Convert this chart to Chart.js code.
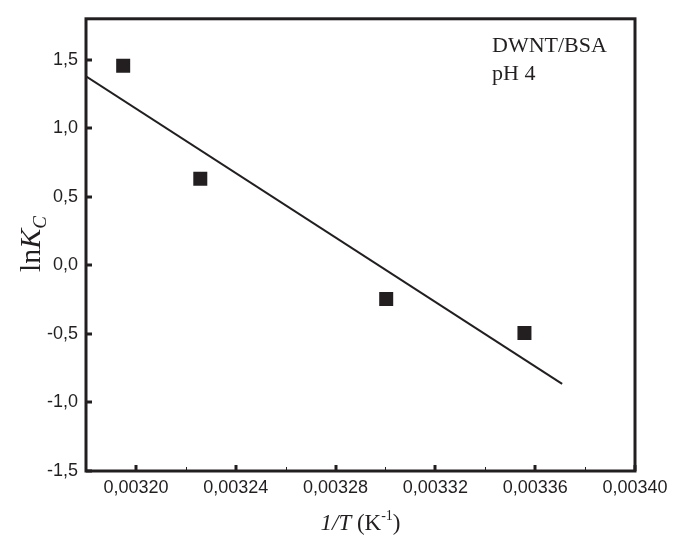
<!DOCTYPE html>
<html>
<head>
<meta charset="utf-8">
<script src="https://cdn.jsdelivr.net/npm/chart.js@4/dist/chart.umd.min.js"></script>
<style>
  html, body { margin: 0; padding: 0; background: #fff; }
  #wrap { width: 682px; height: 538px; }
</style>
</head>
<body>
<div id="wrap"><canvas id="myChart" width="682" height="538"></canvas></div>
<script>
// measured points (1/T vs lnKc)
const invT = [0.0031949, 0.0032258, 0.0033003, 0.0033557];
const lnKc = [1.457, 0.632, -0.245, -0.493];

// linear fit line, end points
const fitX = [0.00318, 0.0033708];
const fitY = [1.381, -0.864];

const xTicks = [0.0032, 0.00324, 0.00328, 0.00332, 0.00336, 0.0034];
const xMinorTicks = [0.00322, 0.00326, 0.0033, 0.00334, 0.00338];
const yTicks = [-1.5, -1.0, -0.5, 0.0, 0.5, 1.0, 1.5];

const ink = '#231f20';
const serif = '"Liberation Serif", "Times New Roman", serif';

const frame = {
  id: 'frame',
  afterDraw(chart) {
    const { ctx, chartArea: a, scales } = chart;
    ctx.save();
    ctx.strokeStyle = ink;
    // ticks, pointing inwards
    ctx.lineWidth = 3;
    xTicks.forEach(v => {
      const x = Math.round(scales.x.getPixelForValue(v));
      ctx.beginPath(); ctx.moveTo(x, a.bottom); ctx.lineTo(x, a.bottom - 6); ctx.stroke();
    });
    yTicks.forEach(v => {
      const y = Math.round(scales.y.getPixelForValue(v));
      ctx.beginPath(); ctx.moveTo(a.left, y); ctx.lineTo(a.left + 6, y); ctx.stroke();
    });
    ctx.lineWidth = 1;
    xMinorTicks.forEach(v => {
      const x = Math.round(scales.x.getPixelForValue(v)) + 0.5;
      ctx.beginPath(); ctx.moveTo(x, a.bottom); ctx.lineTo(x, a.bottom - 4); ctx.stroke();
    });
    // box
    ctx.lineWidth = 3;
    ctx.strokeRect(a.left, a.top, a.right - a.left, a.bottom - a.top);

    // legend text
    ctx.fillStyle = ink;
    ctx.font = '22px ' + serif;
    ctx.textAlign = 'left';
    ctx.textBaseline = 'alphabetic';
    ctx.fillText('DWNT/BSA', 492, 52);
    ctx.fillText('pH 4', 492, 80);

    // x title: 1/T (K^-1), centred on the plot
    const parts = [
      { t: '1/T', f: 'italic 23px ' + serif, dy: 0 },
      { t: ' (K', f: '23px ' + serif, dy: 0 },
      { t: '-1', f: '14px ' + serif, dy: -10 },
      { t: ')', f: '23px ' + serif, dy: 0 }
    ];
    let w = 0;
    parts.forEach(p => { ctx.font = p.f; w += ctx.measureText(p.t).width; });
    let x0 = (a.left + a.right) / 2 - w / 2;
    parts.forEach(p => {
      ctx.font = p.f;
      ctx.fillText(p.t, x0, 530 + p.dy);
      x0 += ctx.measureText(p.t).width;
    });

    // y title: lnK_C
    ctx.translate(40, 244);
    ctx.rotate(-Math.PI / 2);
    const yParts = [
      { t: 'ln', f: '30px ' + serif, dy: 0 },
      { t: 'K', f: 'italic 30px ' + serif, dy: 0 },
      { t: 'C', f: 'italic 19px ' + serif, dy: 6 }
    ];
    w = 0;
    yParts.forEach(p => { ctx.font = p.f; w += ctx.measureText(p.t).width; });
    x0 = -w / 2;
    yParts.forEach(p => {
      ctx.font = p.f;
      ctx.fillText(p.t, x0, p.dy);
      x0 += ctx.measureText(p.t).width;
    });
    ctx.restore();
  }
};

const data = {
  datasets: [
    {
      type: 'scatter',
      data: invT.map((x, i) => ({ x: x, y: lnKc[i] })),
      pointStyle: 'rect',
      pointRadius: 9.9,
      backgroundColor: ink,
      borderColor: ink,
      borderWidth: 0
    },
    {
      type: 'line',
      data: fitX.map((x, i) => ({ x: x, y: fitY[i] })),
      borderColor: ink,
      borderWidth: 2,
      pointRadius: 0,
      fill: false
    }
  ]
};

const tickFont = { family: '"Liberation Sans", Arial, sans-serif', size: 18 };

const config = {
  type: 'scatter',
  data: data,
  options: {
    responsive: false,
    animation: false,
    layout: { padding: { left: 0, top: 8, right: 47, bottom: 0 } },
    plugins: { legend: { display: false }, tooltip: { enabled: false } },
    scales: {
      x: {
        type: 'linear',
        min: 0.00318,
        max: 0.0034,
        afterBuildTicks: s => { s.ticks = xTicks.map(v => ({ value: v })); },
        afterFit: s => { s.height = 67; },
        grid: { display: false, drawTicks: false },
        border: { display: false },
        ticks: {
          color: ink,
          font: tickFont,
          padding: 6,
          maxRotation: 0,
          autoSkip: false,
          callback: v => v.toFixed(5).replace('.', ',')
        }
      },
      y: {
        min: -1.5,
        max: 1.8,
        afterBuildTicks: s => { s.ticks = yTicks.map(v => ({ value: v })); },
        afterFit: s => { s.width = 86; },
        grid: { display: false, drawTicks: false },
        border: { display: false },
        ticks: {
          color: ink,
          font: tickFont,
          padding: 8,
          callback: v => v.toFixed(1).replace('.', ',')
        }
      }
    }
  },
  plugins: [frame]
};

const ctx = document.getElementById('myChart').getContext('2d');
const myChart = new Chart(ctx, config);
</script>
</body>
</html>
